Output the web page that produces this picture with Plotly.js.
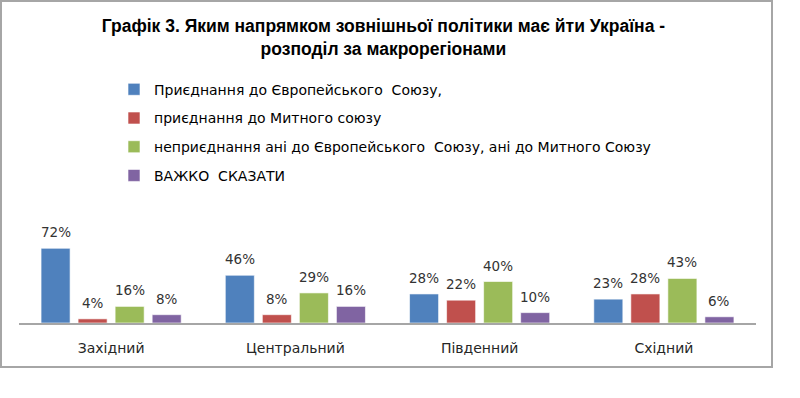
<!DOCTYPE html>
<html>
<head>
<meta charset="utf-8">
<script src="https://cdn.plot.ly/plotly-3.0.1.min.js"></script>
<style>
html,body{margin:0;padding:0;background:#fff;}
#box{position:absolute;left:0;top:0;width:773px;height:368px;box-sizing:border-box;border:2px solid #a6a6a6;background:#fff;}
#chart{width:769px;height:364px;}
</style>
</head>
<body>
<div id="box"><div id="chart"></div></div>
<script>
const categories = ['Західний', 'Центральний', 'Південний', 'Східний'];
const seriesNames = [
  'Приєднання до Європейського  Союзу,',
  'приєднання до Митного союзу',
  'неприєднання ані до Європейського  Союзу, ані до Митного Союзу',
  'ВАЖКО  СКАЗАТИ'
];
const euValues = [72, 46, 28, 23];
const customsValues = [4, 8, 22, 28];
const neitherValues = [16, 29, 40, 43];
const hardToSayValues = [8, 16, 10, 6];
const colors = ['#4F81BD', '#C0504D', '#9BBB59', '#8064A2'];

const allValues = [euValues, customsValues, neitherValues, hardToSayValues];
const bargap = 0.196;

const traces = allValues.map((vals, i) => ({
  type: 'bar',
  name: seriesNames[i],
  x: categories,
  y: vals,
  marker: {color: colors[i], line: {color: 'rgba(255,255,255,0.6)', width: 1}},
  legendgroup: 'g' + i,
  hoverinfo: 'none'
}));

const annotations = [];
allValues.forEach((vals, i) => {
  const slot = (1 - bargap) / 4;
  vals.forEach((v, c) => {
    annotations.push({
      x: c + (i - 1.5) * slot,
      y: v,
      xref: 'x', yref: 'y',
      text: v + '%',
      showarrow: false,
      yanchor: 'middle',
      yshift: 16,
      font: {family: 'DejaVu Sans', size: 13.5, color: '#333333'}
    });
  });
});

const layout = {
  width: 769,
  height: 364,
  margin: {l: 17, r: 15, t: 237.5, b: 43.3, autoexpand: false},
  paper_bgcolor: '#fff',
  plot_bgcolor: '#fff',
  barmode: 'group',
  bargap: bargap,
  bargroupgap: 0.216,
  showlegend: true,
  title: {
    text: '<b>Графік 3. Яким напрямком зовнішньої політики має йти Україна -<br>розподіл за макрорегіонами</b>',
    font: {family: 'Liberation Sans Narrow, Liberation Sans, sans-serif', size: 17.5, color: '#000'},
    x: 0.496, xref: 'container', xanchor: 'center',
    y: 0.917, yref: 'container', yanchor: 'top'
  },
  legend: {
    x: 112 / 769, xref: 'container', xanchor: 'left',
    y: 0.803, yref: 'container', yanchor: 'top',
    traceorder: 'grouped',
    tracegroupgap: 7.5,
    font: {family: 'DejaVu Sans', size: 14, color: '#000'},
    bgcolor: 'rgba(0,0,0,0)'
  },
  xaxis: {
    type: 'category',
    showline: true, linecolor: '#a6a6a6', linewidth: 1.5,
    showgrid: false, zeroline: false,
    ticks: 'outside', ticklen: 12, tickcolor: 'rgba(0,0,0,0)',
    tickfont: {family: 'DejaVu Sans', size: 14, color: '#262626'},
    tickangle: 0,
    fixedrange: true
  },
  yaxis: {
    range: [0, 80],
    visible: false,
    showgrid: false, zeroline: false,
    fixedrange: true
  },
  annotations: annotations
};

Plotly.newPlot('chart', traces, layout, {displayModeBar: false, staticPlot: true});
</script>
</body>
</html>
